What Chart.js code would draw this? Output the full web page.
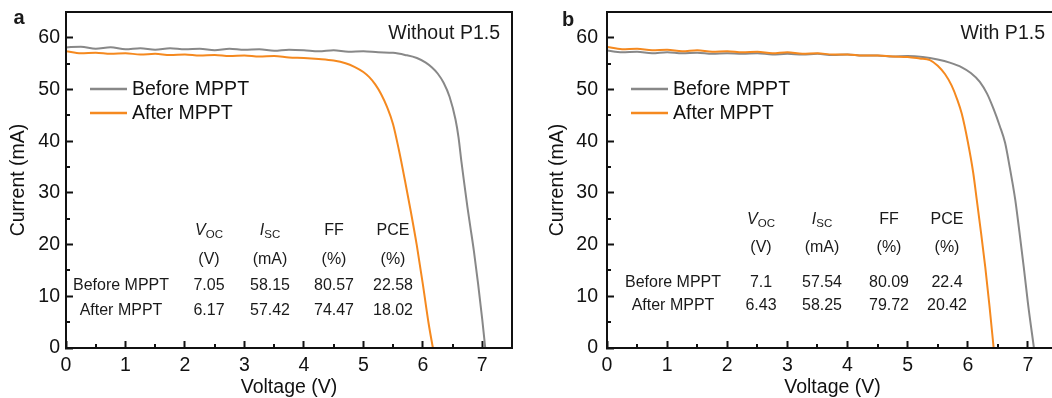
<!DOCTYPE html>
<html>
<head>
<meta charset="utf-8">
<script src="https://cdn.jsdelivr.net/npm/chart.js@4/dist/chart.umd.min.js"></script>
<style>
  html, body { margin: 0; padding: 0; background: #fff; width: 1052px; height: 398px; overflow: hidden; }
  body { position: relative; font-family: "Liberation Sans", Arial, sans-serif; color: #1a1a1a; }
  canvas { position: absolute; top: 0; }
  #grafico-a { left: 0; }
  #grafico-b { left: 526px; }
  .txt { position: absolute; white-space: nowrap; line-height: 1; transform: translate(-50%, -50%); }
  .tabla { font-size: 16px; }
  .tabla sub { font-size: 11.5px; vertical-align: -3px; line-height: 0; }
  .nota { font-size: 19.5px; transform: translate(-100%, -50%); }
  .letra { font-size: 20px; font-weight: bold; }
</style>
</head>
<body>
<canvas id="grafico-a" width="526" height="398"></canvas>
<canvas id="grafico-b" width="546" height="398"></canvas>
<div id="textos"></div>
<script>
// Curvas I-V, panel a (sin P1.5)
const voltBeforeA = [0, 0.25, 0.5, 0.75, 1, 1.25, 1.5, 1.75, 2, 2.25, 2.5, 2.75, 3, 3.25, 3.5, 3.75, 4, 4.25, 4.5, 4.75, 5, 5.25, 5.5, 5.7, 5.9, 6.05, 6.15, 6.25, 6.35, 6.45, 6.55, 6.6, 6.65, 6.7, 6.75, 6.8, 6.86, 6.93, 7.0, 7.05];
const currBeforeA = [58.15, 58.3, 57.9, 58.2, 57.8, 58.0, 57.7, 58.0, 57.8, 57.9, 57.6, 57.9, 57.7, 57.8, 57.5, 57.7, 57.6, 57.4, 57.6, 57.3, 57.4, 57.2, 57.1, 56.7, 56.1, 55.2, 54.3, 53.1, 51.3, 48.6, 44.2, 40.8, 36.0, 31.6, 27.3, 23.4, 18.7, 12.4, 5.5, 0];
const voltAfterA = [0, 0.25, 0.5, 0.75, 1, 1.25, 1.5, 1.75, 2, 2.25, 2.5, 2.75, 3, 3.25, 3.5, 3.75, 4, 4.25, 4.5, 4.7, 4.85, 5.0, 5.1, 5.2, 5.3, 5.4, 5.5, 5.6, 5.7, 5.8, 5.9, 6.0, 6.1, 6.17];
const currAfterA = [57.42, 57.0, 57.1, 56.9, 57.0, 56.8, 56.9, 56.7, 56.8, 56.6, 56.7, 56.5, 56.6, 56.4, 56.5, 56.2, 56.1, 55.9, 55.6, 55.1, 54.4, 53.4, 52.4, 51.0, 49.1, 46.6, 43.3, 38.2, 32.4, 26.3, 19.8, 12.4, 4.6, 0];

// Curvas I-V, panel b (con P1.5)
const voltBeforeB = [0, 0.25, 0.5, 0.75, 1, 1.25, 1.5, 1.75, 2, 2.25, 2.5, 2.75, 3, 3.25, 3.5, 3.75, 4, 4.25, 4.5, 4.75, 5, 5.25, 5.5, 5.7, 5.9, 6.05, 6.2, 6.32, 6.43, 6.53, 6.62, 6.7, 6.75, 6.79, 6.86, 6.93, 7.0, 7.1];
const currBeforeB = [57.54, 57.2, 57.3, 57.0, 57.2, 57.0, 57.1, 56.9, 57.0, 56.9, 57.0, 56.8, 56.9, 56.8, 56.9, 56.7, 56.8, 56.6, 56.6, 56.4, 56.5, 56.3, 55.8, 55.2, 54.3, 53.2, 51.5, 49.2, 46.2, 43.0, 39.7, 34.8, 31.5, 28.6, 22.3, 15.7, 8.7, 0];
const voltAfterB = [0, 0.25, 0.5, 0.75, 1, 1.25, 1.5, 1.75, 2, 2.25, 2.5, 2.75, 3, 3.25, 3.5, 3.75, 4, 4.25, 4.5, 4.75, 5, 5.2, 5.37, 5.5, 5.62, 5.73, 5.82, 5.9, 6.0, 6.09, 6.15, 6.22, 6.29, 6.36, 6.43];
const currAfterB = [58.25, 57.8, 57.9, 57.6, 57.7, 57.4, 57.6, 57.3, 57.4, 57.2, 57.3, 57.0, 57.2, 56.9, 57.0, 56.8, 56.8, 56.6, 56.6, 56.4, 56.3, 56.0, 55.7, 54.6, 53.0, 50.8, 48.2, 45.3, 39.9, 33.9, 28.6, 22.3, 15.7, 8.2, 0];

// Tabla de parametros
const simbolos = ['V', 'I', 'FF', 'PCE'];
const subindices = ['OC', 'SC', '', ''];
const unidades = ['(V)', '(mA)', '(%)', '(%)'];
const filas = ['Before MPPT', 'After MPPT'];
const valoresA = [['7.05', '58.15', '80.57', '22.58'], ['6.17', '57.42', '74.47', '18.02']];
const valoresB = [['7.1', '57.54', '80.09', '22.4'], ['6.43', '58.25', '79.72', '20.42']];

const series = ['Before MPPT', 'After MPPT'];
const colores = ['#888888', '#f5891f'];

const fuente = "'Liberation Sans', Arial, sans-serif";
const negro = '#111';

// Marco del area de trazado
const marco = {
    id: 'marco',
    afterDraw(chart) {
        const { ctx, chartArea: a } = chart;
        ctx.save();
        ctx.strokeStyle = negro;
        ctx.lineWidth = 2;
        ctx.strokeRect(a.left, a.top, a.right - a.left, a.bottom - a.top);
        ctx.restore();
    }
};

// Ticks menores hacia dentro
const ticksMenores = {
    id: 'ticksMenores',
    afterDraw(chart) {
        const { ctx, chartArea: a, scales: { x, y } } = chart;
        ctx.save();
        ctx.strokeStyle = negro;
        ctx.lineWidth = 2;
        ctx.beginPath();
        for (let v = 0.5; v < x.max; v += 1) {
            const px = Math.round(x.getPixelForValue(v));
            ctx.moveTo(px, a.bottom);
            ctx.lineTo(px, a.bottom - 4);
        }
        for (let v = 5; v < y.max; v += 10) {
            const py = Math.round(y.getPixelForValue(v));
            ctx.moveTo(a.left, py);
            ctx.lineTo(a.left + 4, py);
        }
        ctx.stroke();
        ctx.restore();
    }
};

// Leyenda dentro del grafico
const leyenda = {
    id: 'leyenda',
    afterDraw(chart) {
        const { ctx, chartArea: a } = chart;
        ctx.save();
        ctx.font = `19.5px ${fuente}`;
        ctx.textBaseline = 'middle';
        ctx.fillStyle = negro;
        chart.data.datasets.forEach((ds, i) => {
            const yy = a.top + 77 + i * 24;
            ctx.strokeStyle = ds.borderColor;
            ctx.lineWidth = 2.5;
            ctx.beginPath();
            ctx.moveTo(a.left + 24, yy);
            ctx.lineTo(a.left + 61, yy);
            ctx.stroke();
            ctx.fillText(ds.label, a.left + 66, yy + 1);
        });
        ctx.restore();
    }
};

const renderPanel = (canvasId, volts, currs, anchoY, tituloY, padY) => {
    const datasets = series.map((label, index) => ({
        label: label,
        data: volts[index].map((v, k) => ({ x: v, y: currs[index][k] })),
        borderColor: colores[index],
        borderWidth: 2,
        pointRadius: 0,
        fill: false,
        cubicInterpolationMode: 'monotone',
        order: 1 - index,
    }));

    const ctx = document.getElementById(canvasId).getContext('2d');
    new Chart(ctx, {
        type: 'line',
        data: { datasets: datasets },
        options: {
            responsive: false,
            animation: false,
            layout: { padding: { top: 12, right: 14, left: 0, bottom: 0 } },
            plugins: { legend: { display: false }, tooltip: { enabled: false } },
            scales: {
                x: {
                    type: 'linear',
                    min: 0,
                    max: 7.5,
                    afterFit: (s) => { s.height = 50; s.paddingLeft = 0; s.paddingRight = 0; },
                    ticks: { stepSize: 1, includeBounds: false, padding: 12.6, color: negro, font: { family: fuente, size: 19.5 } },
                    grid: { drawOnChartArea: false, tickLength: -7, tickWidth: 2, tickColor: negro },
                    border: { color: negro, width: 2 },
                    title: { display: true, text: 'Voltage (V)', color: negro, font: { family: fuente, size: 19.5, lineHeight: 1 }, padding: { top: 0, bottom: 0.5 } },
                },
                y: {
                    min: 0,
                    max: 65,
                    afterFit: (s) => { s.width = anchoY; s.paddingTop = 0; s.paddingBottom = 0; },
                    ticks: { stepSize: 10, includeBounds: false, padding: padY, color: negro, font: { family: fuente, size: 19.5 } },
                    grid: { drawOnChartArea: false, tickLength: -7, tickWidth: 2, tickColor: negro },
                    border: { color: negro, width: 2 },
                    title: { display: true, text: 'Current (mA)', color: negro, font: { family: fuente, size: 19.5, lineHeight: 1 }, padding: { top: tituloY, bottom: 0 } },
                },
            },
        },
        plugins: [marco, ticksMenores, leyenda],
    });
};

// Textos: tabla, anotaciones y letras de panel
const cont = document.getElementById('textos');
const addTxt = (html, x, y, clase) => {
    const d = document.createElement('div');
    d.className = 'txt ' + clase;
    d.style.left = x + 'px';
    d.style.top = y + 'px';
    d.innerHTML = html;
    cont.appendChild(d);
};

const renderTabla = (valores, colX, rowY) => {
    simbolos.forEach((s, j) => {
        const cab = subindices[j] ? `<i>${s}</i><sub>${subindices[j]}</sub>` : s;
        addTxt(cab, colX[j + 1], rowY[0], 'tabla');
        addTxt(unidades[j], colX[j + 1], rowY[1], 'tabla');
    });
    filas.forEach((f, i) => {
        addTxt(f, colX[0], rowY[i + 2], 'tabla');
        valores[i].forEach((v, j) => addTxt(v, colX[j + 1], rowY[i + 2], 'tabla'));
    });
};

renderPanel('grafico-a', [voltBeforeA, voltAfterA], [currBeforeA, currAfterA], 66, 9, 13);
renderPanel('grafico-b', [voltBeforeB, voltAfterB], [currBeforeB, currAfterB], 81, 21.5, 16);

renderTabla(valoresA, [121, 209, 270, 334, 393], [230, 259, 285, 310]);
renderTabla(valoresB, [673, 761, 822, 889, 947], [219, 247, 282, 305]);

addTxt('Without P1.5', 500, 33, 'nota');
addTxt('With P1.5', 1045, 33, 'nota');
addTxt('a', 19, 17, 'letra');
addTxt('b', 568, 19, 'letra');
</script>
</body>
</html>
